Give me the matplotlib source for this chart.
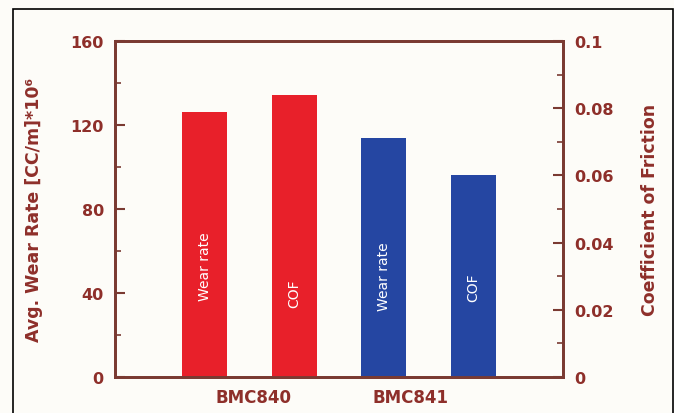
import matplotlib.pyplot as plt
from matplotlib.patches import Rectangle
from matplotlib.ticker import MultipleLocator

# data
bar_x = [1.0, 2.0, 3.0, 4.0]
wear_rate = [126, 114]          # left axis, BMC840 / BMC841
cof = [0.084, 0.060]            # right axis
bar_text = ["Wear rate", "COF", "Wear rate", "COF"]
text_y = [53, 40, 48, 43]
groups = ["BMC840", "BMC841"]
group_x = [1.55, 3.3]

red = "#e8202a"
blue = "#2546a2"
axcol = "#7a3a32"
txtcol = "#8e2f2a"

plt.rcParams['font.family'] = ['DejaVu Sans']
plt.rcParams['font.weight'] = 'bold'
plt.rcParams['axes.labelweight'] = 'bold'

fig = plt.figure(figsize=(6.74, 4.14), dpi=100)
fig.patch.set_facecolor("#fdfcf8")
ax = fig.add_axes([0.1706, 0.087, 0.6647, 0.8116])
ax.set_facecolor("#fdfcf8")
ax2 = ax.twinx()

ymax = 160
cmax = 0.1
# COF bars drawn on the right axis scale
ax.bar(bar_x[0], wear_rate[0], width=0.5, color=red)
ax2.bar(bar_x[1], cof[0], width=0.5, color=red)
ax.bar(bar_x[2], wear_rate[1], width=0.5, color=blue)
ax2.bar(bar_x[3], cof[1], width=0.5, color=blue)

ax.set_xlim(0, 5)
ax.set_ylim(0, ymax)
ax2.set_ylim(0, cmax)

for x, t, y in zip(bar_x, bar_text, text_y):
    ax2.text(x, y / ymax * cmax, t, rotation=90, ha='center', va='center',
             color='white', fontsize=10, fontweight='normal')

ax.set_xticks(group_x)
ax.set_xticklabels(groups)
ax.tick_params(axis='x', length=0, pad=8, labelsize=12, colors=txtcol)

ax.yaxis.set_major_locator(MultipleLocator(40))
ax.yaxis.set_minor_locator(MultipleLocator(20))
ax2.set_yticks([0, 0.02, 0.04, 0.06, 0.08, 0.1])
ax2.set_yticklabels(["0", "0.02", "0.04", "0.06", "0.08", "0.1"])
ax2.yaxis.set_minor_locator(MultipleLocator(0.01))

for a in (ax, ax2):
    a.tick_params(axis='y', which='major', direction='in', length=7, width=1.5,
                  color=axcol, labelcolor=txtcol, labelsize=11.5, pad=8)
    a.tick_params(axis='y', which='minor', direction='in', length=4, width=1.2,
                  color=axcol)
    for s in a.spines.values():
        s.set_color(axcol)
        s.set_linewidth(2)

ax.set_ylabel("Avg. Wear Rate [CC/m]*10\u2076", color=txtcol, fontsize=12.5, labelpad=20)
ax2.set_ylabel("Coefficient of Friction", color=txtcol, fontsize=12.5, labelpad=20)

fig.patches.append(Rectangle((0.02, -0.01), 0.978, 0.985, transform=fig.transFigure,
                             fill=False, edgecolor='black', linewidth=1.2))

fig.savefig("out.png", dpi=100, facecolor=fig.get_facecolor())
